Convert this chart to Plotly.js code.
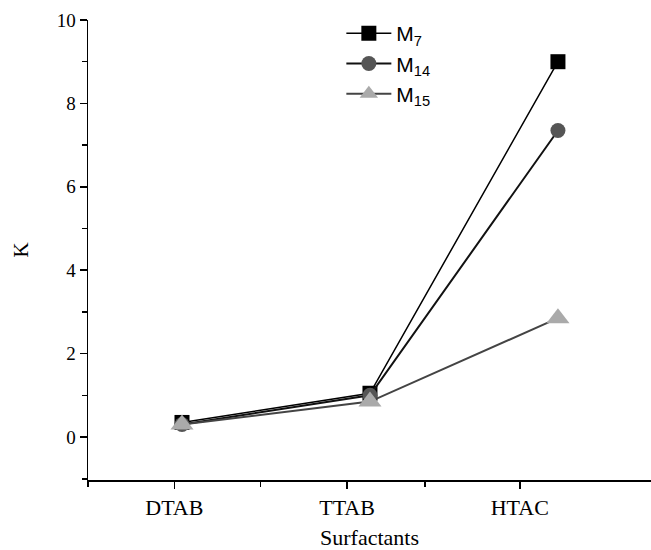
<!DOCTYPE html>
<html>
<head>
<meta charset="utf-8">
<script src="https://cdn.plot.ly/plotly-3.0.1.min.js"></script>
<style>html,body{margin:0;padding:0;background:#fff;}#chart{width:651px;height:550px;}</style>
</head>
<body>
<div id="chart"></div>
<script>
const categories = ["DTAB", "TTAB", "HTAC"];
const seriesNames = ["M<sub>7</sub>", "M<sub>14</sub>", "M<sub>15</sub>"];
const m7 = [0.35, 1.05, 9.0];
const m14 = [0.3, 1.0, 7.35];
const m15 = [0.3, 0.85, 2.85];
const yTickVals = [0, 2, 4, 6, 8, 10];

const styles = [
  {line: {color: "#000", width: 1.5}, marker: {symbol: "square", size: 15, color: "#000"}},
  {line: {color: "#111", width: 2}, marker: {symbol: "circle", size: 15, color: "#555"}},
  {line: {color: "#444", width: 2}, marker: {symbol: "triangle-up", size: 20, color: "#aaa"}}
];
const values = [m7, m14, m15];

// empty trace so that the tick axis (x/y subplot) is created and drawn
const axisTrace = {
  type: "scatter", mode: "markers", x: [], y: [],
  xaxis: "x", yaxis: "y", showlegend: false, hoverinfo: "skip"
};

const traces = [axisTrace].concat(values.map((v, i) => ({
  type: "scatter",
  mode: "lines+markers",
  x: categories,
  y: v,
  name: seriesNames[i],
  xaxis: "x2",
  yaxis: "y",
  line: styles[i].line,
  marker: styles[i].marker
})));

const font = {family: "Liberation Serif, serif", color: "#000"};

const layout = {
  width: 651,
  height: 550,
  margin: {l: 88, r: 0, t: 20, b: 70},
  paper_bgcolor: "#fff",
  plot_bgcolor: "#fff",
  showlegend: true,
  legend: {
    x: 0.45, xanchor: "left", y: 1.015, yanchor: "top",
    font: {family: "Liberation Sans, Arial, sans-serif", size: 21, color: "#000"},
    bgcolor: "rgba(0,0,0,0)",
    itemwidth: 45,
    tracegroupgap: 0
  },
  xaxis: {
    type: "linear",
    range: [-0.5, 2.76],
    tickmode: "array",
    tickvals: categories.map((c, i) => i),
    ticktext: categories,
    ticks: "outside",
    ticklen: 7,
    tickwidth: 1.5,
    tickcolor: "#000",
    showline: true,
    linecolor: "#000",
    linewidth: 1.5,
    showgrid: false,
    zeroline: false,
    tickfont: Object.assign({size: 22}, font),
    minor: {tickmode: "array", tickvals: [-0.5, 0.5, 1.45], ticks: "outside", ticklen: 5, tickwidth: 1.5, tickcolor: "#000", showgrid: false},
    title: {text: "Surfactants", font: Object.assign({size: 22}, font), standoff: 16},
    fixedrange: true
  },
  xaxis2: {
    type: "category",
    overlaying: "x",
    range: [-0.5, 2.495],
    visible: false,
    showgrid: false,
    zeroline: false
  },
  yaxis: {
    range: [-1.03, 10],
    tickmode: "array",
    tickvals: yTickVals,
    ticks: "outside",
    ticklen: 7,
    tickwidth: 1.5,
    tickcolor: "#000",
    showline: true,
    linecolor: "#000",
    linewidth: 1.5,
    showgrid: false,
    zeroline: false,
    tickfont: Object.assign({size: 19}, font),
    minor: {dtick: 1, tick0: 0, ticks: "outside", ticklen: 5, tickwidth: 1.5, tickcolor: "#000", showgrid: false},
    title: {text: "K", font: Object.assign({size: 21}, font), standoff: 22},
    fixedrange: true
  }
};

Plotly.newPlot("chart", traces, layout, {displayModeBar: false, staticPlot: true});
</script>
</body>
</html>
